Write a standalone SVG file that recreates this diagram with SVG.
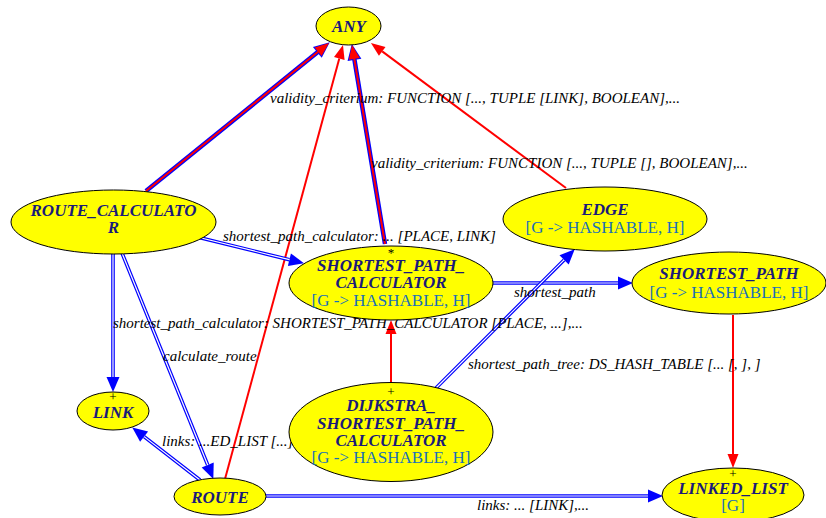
<svg xmlns="http://www.w3.org/2000/svg" width="826" height="518" viewBox="0 0 826 518">
<style>
.node{fill:#ffff00;stroke:#000;stroke-width:1}
text{font-family:"Liberation Serif","Times New Roman","DejaVu Serif",serif}
.nm{font-weight:bold;font-style:italic;font-size:17px;fill:#1a1a7a;text-anchor:middle}
.gen{font-size:17px;fill:#1a70b8;text-anchor:middle}
.mk{font-size:13px;fill:#000;text-anchor:middle}
.lbl{font-style:italic;font-size:15px;fill:#000}
.bo{fill:none;stroke:#0000ff;stroke-width:3.6}
.bi{fill:none;stroke:#fff;stroke-width:1.2}
.rd{fill:none;stroke:#ff0000;stroke-width:2}
.bor{fill:none;stroke:#0000ff;stroke-width:4.5}
</style>
<defs>
<marker id="ab" markerUnits="userSpaceOnUse" markerWidth="16" markerHeight="14" refX="0" refY="7" orient="auto" overflow="visible"><path d="M0,0.5 L15,7 L0,13.5 z" fill="#0000ff"/></marker>
<marker id="abb" markerUnits="userSpaceOnUse" markerWidth="18" markerHeight="16" refX="0" refY="8" orient="auto" overflow="visible"><path d="M-1,1 L15,8 L-1,15 z" fill="#0000ff"/></marker>
<marker id="ar" markerUnits="userSpaceOnUse" markerWidth="16" markerHeight="14" refX="0" refY="7" orient="auto" overflow="visible"><path d="M0,1.5 L14,7 L0,12.5 z" fill="#ff0000"/></marker>
</defs>
<g id="connectors">
<path class="bor" d="M146,191 L318.1,51.8" marker-end="url(#abb)"/>
<path class="rd" d="M146,191 L318.1,51.8" marker-end="url(#ar)"/>
<path class="rd" d="M225,479 L339.3,58.5" marker-end="url(#ar)"/>
<path class="bor" d="M385,244 L354.3,58.8" marker-end="url(#abb)"/>
<path class="rd" d="M385,244 L354.3,58.8" marker-end="url(#ar)"/>
<path class="rd" d="M566,188 L382.2,51.4" marker-end="url(#ar)"/>
<path class="bo" d="M193,236 L289.4,259.7" marker-end="url(#ab)"/>
<path class="bi" d="M193,236 L289.4,259.7"/>
<path class="bo" d="M113,254 L113,377" marker-end="url(#ab)"/>
<path class="bi" d="M113,254 L113,377"/>
<path class="bo" d="M122,253 L207.7,465" marker-end="url(#ab)"/>
<path class="bi" d="M122,253 L207.7,465"/>
<path class="bo" d="M200,480 L144.1,436.6" marker-end="url(#ab)"/>
<path class="bi" d="M200,480 L144.1,436.6"/>
<path class="bo" d="M266,496 L648,496" marker-end="url(#ab)"/>
<path class="bi" d="M266,496 L648,496"/>
<path class="bo" d="M493,283 L618,283" marker-end="url(#ab)"/>
<path class="bi" d="M493,283 L618,283"/>
<path class="bo" d="M436,388 L564.1,259.9" marker-end="url(#ab)"/>
<path class="bi" d="M436,388 L564.1,259.9"/>
<path class="rd" d="M391,383 L391,334" marker-end="url(#ar)"/>
<path class="rd" d="M733,315 L733,454" marker-end="url(#ar)"/>
<text class="lbl" x="270" y="103">validity_criterium: FUNCTION [..., TUPLE [LINK], BOOLEAN],...</text>
<text class="lbl" x="371" y="168">validity_criterium: FUNCTION [..., TUPLE [], BOOLEAN],...</text>
<text class="lbl" x="223" y="241">shortest_path_calculator: ... [PLACE, LINK]</text>
<text class="lbl" x="113" y="328">shortest_path_calculator: SHORTEST_PATH_CALCULATOR [PLACE, ...],...</text>
<text class="lbl" x="163" y="361">calculate_route</text>
<text class="lbl" x="162" y="446">links: ...ED_LIST [...]</text>
<text class="lbl" x="477" y="510">links: ... [LINK],...</text>
<text class="lbl" x="514" y="297">shortest_path</text>
<text class="lbl" x="468" y="369">shortest_path_tree: DS_HASH_TABLE [... [, ], ]</text>
</g>
<g id="ANY">
<ellipse class="node" cx="348.5" cy="26" rx="32.5" ry="19"/>
<text class="nm" x="349" y="32">ANY</text>
</g>
<g id="ROUTE_CALCULATOR">
<ellipse class="node" cx="113.5" cy="222" rx="102.5" ry="32"/>
<text class="nm" x="113.5" y="216">ROUTE_CALCULATO</text>
<text class="nm" x="113.5" y="232.5">R</text>
</g>
<g id="SHORTEST_PATH_CALCULATOR">
<ellipse class="node" cx="391" cy="283" rx="102" ry="37"/>
<text class="mk" x="391" y="257">*</text>
<text class="nm" x="391" y="270.5">SHORTEST_PATH_</text>
<text class="nm" x="391" y="287.5">CALCULATOR</text>
<text class="gen" x="391" y="305.5">[G -&gt; HASHABLE, H]</text>
</g>
<g id="EDGE">
<ellipse class="node" cx="605" cy="219" rx="102" ry="32"/>
<text class="nm" x="605" y="214.5">EDGE</text>
<text class="gen" x="605" y="232.5">[G -&gt; HASHABLE, H]</text>
</g>
<g id="SHORTEST_PATH">
<ellipse class="node" cx="729" cy="283" rx="97" ry="31"/>
<text class="nm" x="729" y="278.5">SHORTEST_PATH</text>
<text class="gen" x="729" y="297.5">[G -&gt; HASHABLE, H]</text>
</g>
<g id="DIJKSTRA_SHORTEST_PATH_CALCULATOR">
<ellipse class="node" cx="391" cy="432" rx="102" ry="49.5"/>
<text class="mk" x="391" y="396">+</text>
<text class="nm" x="391" y="410.5">DIJKSTRA_</text>
<text class="nm" x="391" y="428.5">SHORTEST_PATH_</text>
<text class="nm" x="391" y="445.5">CALCULATOR</text>
<text class="gen" x="391" y="462.5">[G -&gt; HASHABLE, H]</text>
</g>
<g id="LINK">
<ellipse class="node" cx="113" cy="411" rx="36" ry="19"/>
<text class="mk" x="113" y="401">+</text>
<text class="nm" x="113" y="417.5">LINK</text>
</g>
<g id="ROUTE">
<ellipse class="node" cx="220" cy="496.5" rx="46" ry="18.5"/>
<text class="nm" x="220" y="502.5">ROUTE</text>
</g>
<g id="LINKED_LIST">
<ellipse class="node" cx="733" cy="495" rx="71" ry="27"/>
<text class="mk" x="733" y="478">+</text>
<text class="nm" x="733" y="493.5">LINKED_LIST</text>
<text class="gen" x="733" y="510.5">[G]</text>
</g>
</svg>
